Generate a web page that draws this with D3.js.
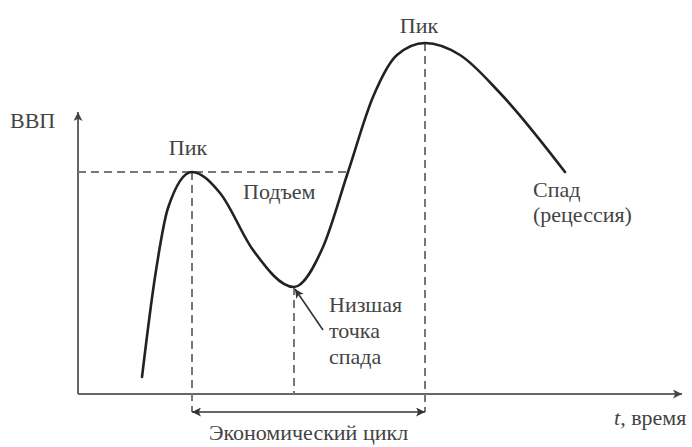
<!DOCTYPE html>
<html>
<head>
<meta charset="utf-8">
<script src="https://cdn.jsdelivr.net/npm/d3@7"></script>
</head>
<body style="margin:0">
<svg id="chart" width="692" height="447"></svg>
<script>
// Business cycle curve (time, GDP in arbitrary units).
const time = [6.4, 7.7, 9.0, 11.4, 14.2, 17.5, 21.6, 24.5, 27.0, 29.5, 31.9, 34.7, 38.2, 42.2, 48.7];
const gdp = [1.7, 11.7, 18.6, 22.2, 20.1, 14.4, 10.7, 14.7, 22.2, 29.7, 33.9, 35.1, 33.9, 30.1, 22.2];

// Key points of the cycle (indices into the arrays above).
const firstPeak = 3;
const trough = 6;
const secondPeak = 11;
const crossIndex = 8;   // where the rise passes the first peak level

const axisLabels = ["ВВП", "время"];
const peakText = "Пик";
const riseText = "Подъем";
const troughText = ["Низшая", "точка", "спада"];
const fallText = ["Спад", "(рецессия)"];
const cycleText = "Экономический цикл";

const svg = d3.select("#chart");

const x = d3.scaleLinear().domain([0, 60]).range([78, 678]);
const y = d3.scaleLinear().domain([0, 36]).range([394, 34]);

const points = time.map((t, i) => ({ t: t, g: gdp[i] }));

// Texts first.
function label(str, px, py, anchor) {
    const el = svg.append("text")
        .attr("x", px).attr("y", py)
        .attr("font-family", "'Liberation Serif', monospace")
        .attr("font-size", 22)
        .text(str);
    if (anchor) el.attr("text-anchor", anchor);
    return el;
}
label(axisLabels[0], 10, 128);
const tLabel = label("", 614, 425);
tLabel.append("tspan").attr("font-style", "italic").text("t");
tLabel.append("tspan").text(", " + axisLabels[1]);
label(peakText, x(time[firstPeak]) - 4, 155, "middle");
label(peakText, x(time[secondPeak]) - 6, 33, "middle");
label(riseText, 243, 199);
troughText.forEach((s, i) => label(s, 329, 312 + i * 26));
fallText.forEach((s, i) => label(s, 533, 197 + i * 25));
label(cycleText, (x(time[firstPeak]) + x(time[secondPeak])) / 2, 440, "middle");
svg.selectAll("text").attr("fill", "#444");

// Arrow markers.
const defs = svg.append("defs");
function marker(id, color, orient) {
    defs.append("marker")
        .attr("id", id)
        .attr("viewBox", "0 0 10 10")
        .attr("refX", 10)
        .attr("refY", 5)
        .attr("markerUnits", "userSpaceOnUse")
        .attr("markerWidth", 12)
        .attr("markerHeight", 9)
        .attr("orient", orient)
        .append("path")
        .attr("d", "M0,0 L10,5 L0,10 L2.5,5 Z")
        .attr("fill", color);
}
marker("axisArrow", "#444", "auto");
marker("cycleArrow", "#333", "auto-start-reverse");
marker("noteArrow", "#333", "auto");

// Axes.
const xEnd = 60.4;
const yTop = 28.2;
svg.append("line")
    .attr("x1", x(0)).attr("y1", y(0))
    .attr("x2", x(xEnd)).attr("y2", y(0))
    .attr("stroke", "#666").attr("stroke-width", 2)
    .attr("marker-end", "url(#axisArrow)");
svg.append("line")
    .attr("x1", x(0)).attr("y1", y(0))
    .attr("x2", x(0)).attr("y2", y(yTop))
    .attr("stroke", "#666").attr("stroke-width", 2)
    .attr("marker-end", "url(#axisArrow)");

// Dashed guides.
const dash = "8,5";
const below = -1.8;
const guides = [
    [0, gdp[firstPeak], time[crossIndex], gdp[firstPeak]],
    [time[firstPeak], gdp[firstPeak], time[firstPeak], below],
    [time[trough], gdp[trough], time[trough], 0],
    [time[secondPeak], gdp[secondPeak], time[secondPeak], below]
];
svg.append("g").selectAll("line")
    .data(guides)
    .enter()
    .append("line")
    .attr("x1", (d) => x(d[0]))
    .attr("y1", (d) => y(d[1]))
    .attr("x2", (d) => x(d[2]))
    .attr("y2", (d) => y(d[3]))
    .attr("stroke", "#777")
    .attr("stroke-width", 2)
    .attr("stroke-dasharray", dash);

// The cycle curve.
const line = d3.line()
    .x((d) => x(d.t))
    .y((d) => y(d.g))
    .curve(d3.curveMonotoneX);
svg.append("path")
    .datum(points)
    .attr("d", line)
    .attr("fill", "none")
    .attr("stroke", "#222")
    .attr("stroke-width", 2.6)
    .attr("stroke-linecap", "round");

// Cycle span arrow.
svg.append("line")
    .attr("x1", x(time[firstPeak])).attr("y1", y(below))
    .attr("x2", x(time[secondPeak])).attr("y2", y(below))
    .attr("stroke", "#333").attr("stroke-width", 1.6)
    .attr("marker-start", "url(#cycleArrow)")
    .attr("marker-end", "url(#cycleArrow)");

// Trough pointer.
svg.append("line")
    .attr("x1", x(time[trough] + 2.9)).attr("y1", y(gdp[trough] - 4.3))
    .attr("x2", x(time[trough] + 0.1)).attr("y2", y(gdp[trough] - 0.2))
    .attr("stroke", "#333").attr("stroke-width", 1.6)
    .attr("marker-end", "url(#noteArrow)");
</script>
</body>
</html>
